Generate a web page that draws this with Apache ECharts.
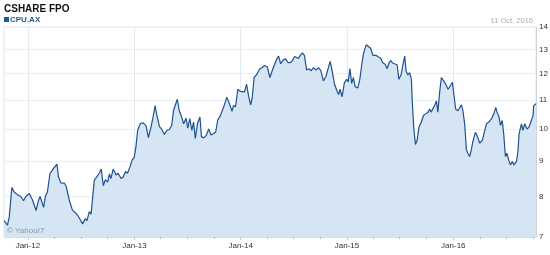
<!DOCTYPE html>
<html><head><meta charset="utf-8">
<script src="https://cdn.jsdelivr.net/npm/echarts@6/dist/echarts.min.js"></script>
<style>html,body{margin:0;padding:0;background:#fff}#c{width:550px;height:255px}</style>
</head><body><div id="c"></div>
<script>
const dates = [
'2011-10-11','2011-10-23','2011-10-29','2011-11-07','2011-11-15','2011-11-26','2011-12-08','2011-12-17','2011-12-25',
'2012-01-06','2012-01-12','2012-01-17','2012-01-29','2012-02-07','2012-02-12','2012-02-18','2012-02-24','2012-03-01','2012-03-08','2012-03-17','2012-03-24','2012-03-29','2012-04-04','2012-04-10','2012-04-15','2012-04-23','2012-04-29','2012-05-05','2012-05-11','2012-05-22','2012-06-02','2012-06-14','2012-06-20','2012-06-25','2012-07-07','2012-07-16','2012-07-22','2012-07-30','2012-08-05','2012-08-16','2012-08-22','2012-09-02','2012-09-09','2012-09-16','2012-09-23','2012-10-01','2012-10-07','2012-10-12','2012-10-20','2012-10-30','2012-11-06','2012-11-16','2012-11-24','2012-12-01','2012-12-08','2012-12-17','2012-12-24','2012-12-31',
'2013-01-06','2013-01-12','2013-01-21','2013-01-31','2013-02-10','2013-02-18','2013-02-27','2013-03-04','2013-03-13','2013-03-18','2013-03-28','2013-04-04','2013-04-14','2013-04-22','2013-05-01','2013-05-09','2013-05-15','2013-05-21','2013-05-28','2013-06-04','2013-06-12','2013-06-19','2013-06-27','2013-07-03','2013-07-10','2013-07-17','2013-07-23','2013-07-29','2013-08-06','2013-08-14','2013-08-19','2013-08-27','2013-09-04','2013-09-13','2013-09-21','2013-09-30','2013-10-07','2013-10-14','2013-10-23','2013-11-03','2013-11-14','2013-11-23','2013-12-02','2013-12-07','2013-12-14','2013-12-22','2013-12-30',
'2014-01-05','2014-01-14','2014-01-21','2014-01-28','2014-02-04','2014-02-09','2014-02-16','2014-02-25','2014-03-06','2014-03-14','2014-03-24','2014-04-02','2014-04-11','2014-04-20','2014-04-29','2014-05-05','2014-05-11','2014-05-18','2014-05-27','2014-06-04','2014-06-12','2014-06-20','2014-06-27','2014-07-05','2014-07-11','2014-07-18','2014-07-25','2014-08-01','2014-08-08','2014-08-15','2014-08-23','2014-08-31','2014-09-08','2014-09-16','2014-09-25','2014-10-03','2014-10-12','2014-10-21','2014-10-28','2014-11-04','2014-11-11','2014-11-19','2014-11-27','2014-12-03','2014-12-08','2014-12-15','2014-12-23','2014-12-31',
'2015-01-05','2015-01-11','2015-01-17','2015-01-23','2015-01-29','2015-02-07','2015-02-14','2015-02-21','2015-02-27','2015-03-08','2015-03-14','2015-03-23','2015-03-31','2015-04-10','2015-04-19','2015-04-26','2015-05-03','2015-05-12','2015-05-19','2015-05-25','2015-05-31','2015-06-07','2015-06-15','2015-06-22','2015-06-28','2015-07-06','2015-07-12','2015-07-18','2015-07-23','2015-07-29','2015-08-04','2015-08-10','2015-08-13','2015-08-18','2015-08-24','2015-08-30','2015-09-05','2015-09-13','2015-09-21','2015-09-28','2015-10-06','2015-10-12','2015-10-17','2015-10-23','2015-10-30','2015-11-04','2015-11-09','2015-11-15','2015-11-21','2015-11-29','2015-12-06','2015-12-14','2015-12-22','2015-12-29',
'2016-01-03','2016-01-09','2016-01-17','2016-01-23','2016-01-29','2016-02-03','2016-02-09','2016-02-15','2016-02-20','2016-02-26','2016-03-03','2016-03-08','2016-03-17','2016-03-24','2016-04-01','2016-04-10','2016-04-18','2016-04-24','2016-05-02','2016-05-11','2016-05-19','2016-05-26','2016-05-30','2016-06-06','2016-06-11','2016-06-17','2016-06-22','2016-06-28','2016-07-03','2016-07-09','2016-07-15','2016-07-22','2016-07-27','2016-08-05','2016-08-10','2016-08-14','2016-08-22','2016-08-27','2016-09-02','2016-09-10','2016-09-17','2016-09-25','2016-10-01','2016-10-03','2016-10-11'
];
const prices = [
7.39,7.28,7.48,8.24,8.12,8.05,8.00,7.89,8.00,
8.08,8.13,7.91,7.64,7.91,8.00,7.98,7.72,8.00,8.12,8.64,8.71,8.78,8.83,8.90,8.54,8.37,8.42,8.36,8.29,7.91,7.65,7.57,7.52,7.46,7.31,7.44,7.39,7.61,7.55,8.44,8.49,8.64,8.76,8.29,8.46,8.39,8.62,8.49,8.76,8.59,8.64,8.49,8.54,8.69,8.64,8.83,9.03,9.10,
9.42,9.95,10.18,10.20,10.10,9.72,10.08,10.30,10.80,10.50,10.08,10.00,9.82,9.95,9.98,10.12,10.62,10.68,11.03,10.62,10.40,10.17,10.36,10.03,10.35,9.95,10.23,9.69,10.20,10.40,9.75,9.71,9.78,10.00,9.80,9.85,9.90,10.30,10.45,10.74,11.10,10.88,10.60,10.80,10.76,11.40,11.32,
11.27,11.30,11.59,11.15,10.83,11.05,11.85,11.97,12.18,12.24,12.33,12.28,11.85,12.15,12.43,12.60,12.72,12.40,12.56,12.60,12.45,12.45,12.52,12.70,12.62,12.62,12.76,12.85,12.74,12.15,12.20,12.12,12.24,12.14,12.24,12.12,11.72,11.90,12.20,12.50,12.10,11.60,11.35,11.20,11.40,11.12,11.65,11.78,
11.68,12.20,11.62,11.85,11.50,11.45,11.78,12.40,12.85,13.20,13.28,13.05,12.75,12.75,12.68,12.64,12.45,12.38,12.20,12.43,12.53,12.43,12.39,12.36,11.78,11.97,12.36,12.72,12.10,11.95,12.04,11.78,10.97,10.06,9.50,9.64,10.06,10.23,10.46,10.51,10.57,10.68,10.57,10.60,10.83,10.97,10.57,11.28,11.85,11.72,11.59,11.40,11.53,11.66,
11.59,10.68,10.62,10.68,10.83,10.62,10.17,9.34,9.23,9.13,9.34,9.59,9.89,9.75,9.54,9.64,9.95,10.17,10.23,10.34,10.51,10.74,10.57,10.40,10.12,10.28,9.85,9.13,9.23,9.03,8.88,8.98,8.88,8.98,9.29,9.85,10.17,9.95,10.17,10.00,10.06,10.28,10.46,10.80,10.87
];
const yTicks = [7,8,9,10,11,12,13,14];
const yearTicks = ['2012-01-01','2013-01-01','2014-01-01','2015-01-01','2016-01-01'];
const quarterTicks = ['2012-04-01','2012-07-01','2012-10-01','2013-04-01','2013-07-01','2013-10-01','2014-04-01','2014-07-01','2014-10-01','2015-04-01','2015-07-01','2015-10-01','2016-04-01','2016-07-01','2016-10-01'];
const startDate = '2011-10-11', endDate = '2016-10-11';
const titleText = 'CSHARE FPO', symbolText = 'CPU.AX', dateText = '11 Oct, 2016', creditText = '\u00A9 Yahoo!7';
const monthNames = ['Jan','Feb','Mar','Apr','May','Jun','Jul','Aug','Sep','Oct','Nov','Dec'];

const chart = echarts.init(document.getElementById('c'), null, {renderer:'canvas'});
const ts = s => new Date(s + 'T00:00:00Z').getTime();
const FONT = 'Arial, "Liberation Sans", sans-serif';
const seriesData = dates.map((d,i)=>[ts(d), Math.log(prices[i])]);
chart.setOption({
  animation:false,
  grid:{left:4, right:14, top:27, bottom:18, outerBoundsMode:'none', containLabel:false,
        show:true, borderColor:'#dfe5ec', borderWidth:1, backgroundColor:'transparent'},
  xAxis:[{
    type:'value', min:ts(startDate), max:ts(endDate),
    axisLine:{show:true, lineStyle:{color:'#d8dde3', width:1}},
    axisTick:{show:true, length:3, lineStyle:{color:'#c8ccd2'}, customValues: yearTicks.map(ts)},
    axisLabel:{customValues: yearTicks.map(ts), margin:5, color:'#333', fontSize:8, fontFamily:FONT,
      formatter: v => { const d = new Date(v); return monthNames[d.getUTCMonth()] + '-' + String(d.getUTCFullYear()).slice(2); }},
    splitLine:{show:true, lineStyle:{color:'#e4eaf1', width:1}}
  },{
    type:'value', min:ts(startDate), max:ts(endDate), position:'bottom',
    axisLine:{show:false},
    axisTick:{show:true, length:2, lineStyle:{color:'#b8bdc4'}, customValues: quarterTicks.map(ts)},
    axisLabel:{show:false}, splitLine:{show:false}
  }],
  yAxis:{
    type:'value', position:'right', min:Math.log(yTicks[0]), max:Math.log(yTicks[yTicks.length-1]),
    axisLine:{show:true, lineStyle:{color:'#d0d4d9'}},
    axisTick:{show:false, customValues: yTicks.map(v=>Math.log(v))},
    axisLabel:{customValues: yTicks.map(v=>Math.log(v)), margin:3, color:'#333', fontSize:8, fontFamily:FONT,
      formatter: v => String(Math.round(Math.exp(v)))},
    splitLine:{show:true, lineStyle:{color:'#eceff2', width:1}}
  },
  series:[{
    type:'line', xAxisIndex:0, data:seriesData, showSymbol:false, symbol:'none',
    lineStyle:{color:'#1e5290', width:1.2},
    areaStyle:{color:'#d6e5f3', opacity:1},
    z:2
  }],
  graphic:[
    {type:'text', left:4, top:4, style:{text:titleText, font:'bold 10px '+FONT, fill:'#111'}},
    {type:'rect', shape:{x:4, y:17, width:5, height:5}, style:{fill:'#1f5a9c'}},
    {type:'text', x:10, y:20, style:{text:symbolText, font:'bold 8px '+FONT, fill:'#1f5a9c', verticalAlign:'middle'}},
    {type:'text', x:533, y:21, style:{text:dateText, font:'7.5px '+FONT, fill:'#b0b0b0', align:'right', verticalAlign:'middle'}},
    {type:'text', x:7, y:231, z:10, style:{text:creditText, font:'8px '+FONT, fill:'#8795a3', verticalAlign:'middle'}}
  ]
});
</script></body></html>
